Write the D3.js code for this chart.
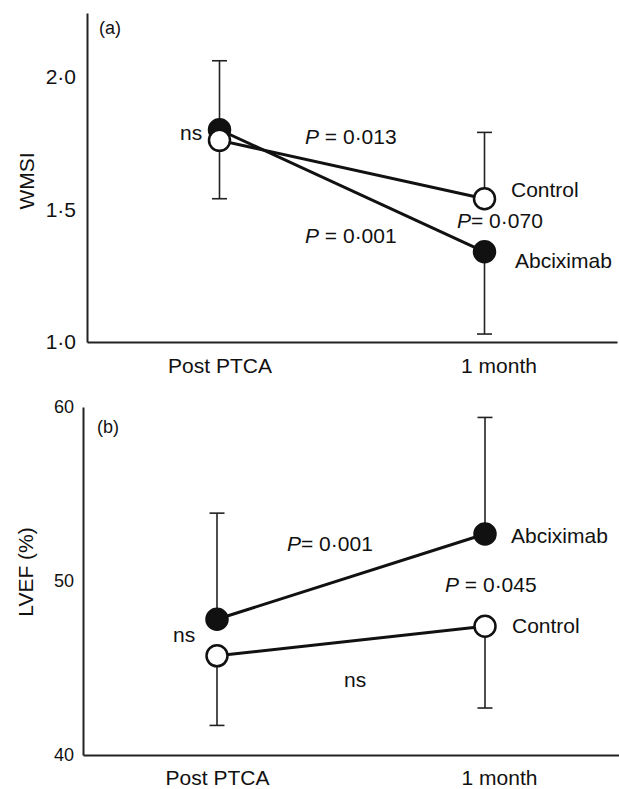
<!DOCTYPE html>
<html>
<head>
<meta charset="utf-8">
<script src="https://cdn.jsdelivr.net/npm/d3@7"></script>
<style>
body { margin: 0; background: #fff; }
svg { display: block; font-family: "Liberation Sans", Arial, sans-serif; }
</style>
</head>
<body>
<div id="chart"></div>
<script>
// data
var timepoints = ["Post PTCA", "1 month"];

var wmsiTicks = [1.0, 1.5, 2.0];
var wmsiDomain = [1.0, 2.24];
var wmsiAbciximab = [1.80, 1.34];
var wmsiAbciximabBar = [2.06, 1.03];   // end of the error bar
var wmsiControl = [1.76, 1.54];
var wmsiControlBar = [1.54, 1.79];

var lvefTicks = [40, 50, 60];
var lvefDomain = [40, 60];
var lvefAbciximab = [47.8, 52.7];
var lvefAbciximabBar = [53.9, 59.4];
var lvefControl = [45.7, 47.4];
var lvefControlBar = [41.7, 42.7];

var width = 619, height = 789;

var svg = d3.select("#chart").append("svg")
    .attr("width", width)
    .attr("height", height);

function italicP(txt) {
    return [["P", true], [txt, false]];
}

function drawPanel(o) {
    var g = svg.append("g");

    var x = d3.scalePoint()
        .domain(timepoints)
        .range(o.xRange)
        .padding(0.5);

    var y = d3.scaleLinear()
        .domain(o.domain)
        .range(o.yRange);

    // axes
    var yAxis = d3.axisLeft(y)
        .tickValues(o.ticks)
        .tickSize(0)
        .tickPadding(o.tickPad)
        .tickFormat(o.format);
    var gY = g.append("g")
        .attr("transform", "translate(" + o.xRange[0] + ",0)")
        .call(yAxis);
    gY.select(".domain").attr("stroke", "#222").attr("stroke-width", 2);
    gY.selectAll("text")
        .attr("font-size", o.tickFont)
        .attr("font-family", "Liberation Sans, Arial, sans-serif")
        .attr("fill", "#111");

    var xAxis = d3.axisBottom(x)
        .tickSize(0)
        .tickSizeOuter(0)
        .tickPadding(0);
    var gX = g.append("g")
        .attr("transform", "translate(0," + o.yRange[0] + ")")
        .call(xAxis);
    gX.select(".domain").attr("stroke", "#222").attr("stroke-width", 2);
    gX.selectAll("text")
        .attr("font-size", 21)
        .attr("font-family", "Liberation Sans, Arial, sans-serif")
        .attr("fill", "#111")
        .attr("dy", null)
        .attr("y", o.xLabelDy)
        .attr("dx", function(d, i) { return i === 1 ? 14 : 0; });

    // y title
    g.append("text")
        .attr("transform", "translate(" + o.titleX + "," + o.titleY + ") rotate(-90)")
        .attr("text-anchor", "middle")
        .attr("font-size", 21)
        .attr("fill", "#111")
        .text(o.title);

    // panel letter
    g.append("text")
        .attr("x", o.letterX)
        .attr("y", o.letterY)
        .attr("font-size", 18)
        .attr("fill", "#111")
        .text(o.letter);

    var line = d3.line()
        .x(function(d) { return x(d.t); })
        .y(function(d) { return y(d.v); });

    var series = o.series.map(function(s) {
        return {
            filled: s.filled,
            pts: timepoints.map(function(t, i) {
                return { t: t, v: s.values[i], bar: s.bars[i] };
            })
        };
    });

    g.selectAll(".line")
        .data(series)
        .enter()
        .append("path")
        .attr("class", "line")
        .attr("fill", "none")
        .attr("stroke", "#111")
        .attr("stroke-width", 3)
        .attr("d", function(d) { return line(d.pts); });

    // error bars
    var bars = [];
    series.forEach(function(s) { bars = bars.concat(s.pts); });
    var eb = g.selectAll(".err")
        .data(bars)
        .enter()
        .append("g")
        .attr("class", "err")
        .attr("stroke", "#222")
        .attr("stroke-width", 1.6);
    eb.append("line")
        .attr("x1", function(d) { return x(d.t); })
        .attr("x2", function(d) { return x(d.t); })
        .attr("y1", function(d) { return y(d.v); })
        .attr("y2", function(d) { return y(d.bar); });
    eb.append("line")
        .attr("x1", function(d) { return x(d.t) - 7.5; })
        .attr("x2", function(d) { return x(d.t) + 7.5; })
        .attr("y1", function(d) { return y(d.bar); })
        .attr("y2", function(d) { return y(d.bar); });

    // markers
    series.forEach(function(s) {
        g.selectAll(null)
            .data(s.pts)
            .enter()
            .append("circle")
            .attr("cx", function(d) { return x(d.t); })
            .attr("cy", function(d) { return y(d.v); })
            .attr("r", 10.5)
            .attr("fill", s.filled ? "#111" : "#fff")
            .attr("stroke", "#111")
            .attr("stroke-width", 2.5);
    });

    // annotations
    o.notes.forEach(function(n) {
        var t = g.append("text")
            .attr("x", n.x)
            .attr("y", n.y)
            .attr("font-size", 21)
            .attr("fill", "#111");
        if (typeof n.text === "string") {
            t.text(n.text);
        } else {
            n.text.forEach(function(p) {
                t.append("tspan")
                    .attr("font-style", p[1] ? "italic" : "normal")
                    .text(p[0]);
            });
        }
    });
}

var fmtDot = function(d) { return d3.format(".1f")(d).replace(".", "\u00b7"); };

drawPanel({
    xRange: [87, 617],
    yRange: [342, 13],
    domain: wmsiDomain,
    ticks: wmsiTicks,
    format: fmtDot,
    tickFont: 21,
    tickPad: 11,
    xLabelDy: 31,
    title: "WMSI",
    titleX: 34,
    titleY: 181,
    letter: "(a)",
    letterX: 99,
    letterY: 34,
    series: [
        { filled: true, values: wmsiAbciximab, bars: wmsiAbciximabBar },
        { filled: false, values: wmsiControl, bars: wmsiControlBar }
    ],
    notes: [
        { text: "ns", x: 180, y: 140 },
        { text: italicP(" = 0\u00b7013"), x: 305, y: 144 },
        { text: italicP(" = 0\u00b7001"), x: 305, y: 243 },
        { text: "Control", x: 511, y: 197 },
        { text: italicP("= 0\u00b7070"), x: 457, y: 228 },
        { text: "Abciximab", x: 515, y: 268 }
    ]
});

drawPanel({
    xRange: [83, 619],
    yRange: [755, 407],
    domain: lvefDomain,
    ticks: lvefTicks,
    format: d3.format("d"),
    tickFont: 18,
    tickPad: 9,
    xLabelDy: 30,
    title: "LVEF (%)",
    titleX: 33,
    titleY: 572,
    letter: "(b)",
    letterX: 97,
    letterY: 433,
    series: [
        { filled: true, values: lvefAbciximab, bars: lvefAbciximabBar },
        { filled: false, values: lvefControl, bars: lvefControlBar }
    ],
    notes: [
        { text: "ns", x: 173, y: 642 },
        { text: italicP("= 0\u00b7001"), x: 287, y: 551 },
        { text: "Abciximab", x: 511, y: 543 },
        { text: italicP(" = 0\u00b7045"), x: 445, y: 592 },
        { text: "Control", x: 512, y: 633 },
        { text: "ns", x: 344, y: 687 }
    ]
});
</script>
</body>
</html>
